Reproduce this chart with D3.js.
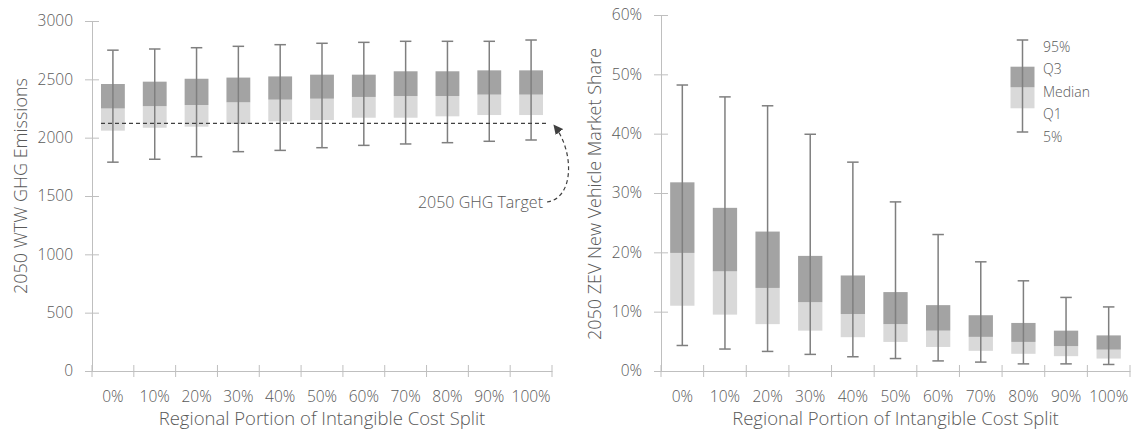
<!DOCTYPE html>
<html>
<head>
<meta charset="utf-8">
<script src="https://cdn.jsdelivr.net/npm/d3@7"></script>
<style>
  body { margin: 0; background: #fff; }
  svg { display: block; font-family: "Open Sans", sans-serif; font-weight: 300; }
  .tick text { fill: #595959; }
</style>
</head>
<body>
<svg id="chart" width="1135" height="438"></svg>
<script>
// categories shared by both panels
const cats = ['0%', '10%', '20%', '30%', '40%', '50%', '60%', '70%', '80%', '90%', '100%'];

// left panel: 2050 WTW GHG emissions
const ghgP5  = [1790, 1815, 1837, 1880, 1891, 1914, 1934, 1946, 1957, 1969, 1980];
const ghgQ1  = [2060, 2085, 2094, 2117, 2140, 2151, 2171, 2171, 2183, 2194, 2194];
const ghgMed = [2250, 2270, 2280, 2303, 2326, 2334, 2349, 2357, 2357, 2369, 2369];
const ghgQ3  = [2460, 2480, 2505, 2515, 2525, 2540, 2540, 2569, 2569, 2577, 2577];
const ghgP95 = [2750, 2760, 2771, 2783, 2797, 2809, 2817, 2826, 2826, 2826, 2837];
const ghgTarget = 2123;
const ghgTicks = [0, 500, 1000, 1500, 2000, 2500, 3000];

// right panel: 2050 ZEV new vehicle market share (%)
const zevP5  = [4.3, 3.7, 3.3, 2.8, 2.4, 2.1, 1.7, 1.5, 1.2, 1.2, 1.1];
const zevQ1  = [11.0, 9.5, 7.9, 6.8, 5.7, 4.9, 4.05, 3.4, 2.9, 2.5, 2.1];
const zevMed = [19.9, 16.8, 14.0, 11.6, 9.6, 7.9, 6.8, 5.75, 4.9, 4.2, 3.6];
const zevQ3  = [31.8, 27.5, 23.5, 19.4, 16.1, 13.3, 11.1, 9.4, 8.1, 6.8, 6.0];
const zevP95 = [48.2, 46.2, 44.7, 39.9, 35.2, 28.5, 23.0, 18.4, 15.2, 12.4, 10.8];
const zevTicks = [0, 10, 20, 30, 40, 50, 60];

const legendLabels = ['95%', 'Q3', 'Median', 'Q1', '5%'];

const svg = d3.select('#chart');
const textColor = '#595959';
const axisColor = '#bfbfbf';
const darkBox = '#a3a3a3';
const lightBox = '#d9d9d9';
const whiskerColor = '#7f7f7f';

function panel(opts) {
  const x = d3.scaleBand().domain(cats).range(opts.xRange).padding(0);
  const y = d3.scaleLinear().domain(opts.yDomain).range(opts.yRange);
  const g = svg.append('g');
  const boxW = x.bandwidth() * 0.57;
  const capW = 11.5;

  const rows = cats.map((c, i) => ({
    c, p5: opts.p5[i], q1: opts.q1[i], med: opts.med[i], q3: opts.q3[i], p95: opts.p95[i]
  }));

  // y axis, ticks cross the axis line
  const yAxis = g.append('g')
    .attr('transform', `translate(${opts.xRange[0]},0)`)
    .call(d3.axisLeft(y).tickValues(opts.yTicks).tickFormat(opts.fmt).tickSize(7).tickPadding(12))
    .attr('font-family', null).attr('font-size', null);
  yAxis.select('.domain').attr('stroke', axisColor);
  yAxis.selectAll('.tick line').attr('stroke', axisColor).attr('x1', 7).attr('x2', -7);
  yAxis.selectAll('.tick text').style('font-size', '15.5px');

  // x axis (labels centered in band, ticks at band edges)
  const xAxis = g.append('g')
    .attr('transform', `translate(0,${opts.yRange[0]})`)
    .call(d3.axisBottom(x).tickSize(0).tickPadding(20))
    .attr('font-family', null).attr('font-size', null);
  xAxis.select('.domain').attr('stroke', axisColor);
  xAxis.selectAll('.tick text').style('font-size', '15.5px');
  const edges = cats.map(c => x(c)).concat([x.range()[1]]);
  xAxis.selectAll('line.edge')
    .data(edges)
    .join('line')
    .attr('class', 'edge')
    .attr('x1', d => d).attr('x2', d => d)
    .attr('y1', -6).attr('y2', 6)
    .attr('stroke', axisColor);

  const box = g.selectAll('g.box')
    .data(rows)
    .join('g')
    .attr('class', 'box')
    .attr('transform', d => `translate(${x(d.c) + x.bandwidth() / 2},0)`);

  box.append('rect')
    .attr('x', -boxW / 2).attr('width', boxW)
    .attr('y', d => y(d.med)).attr('height', d => y(d.q1) - y(d.med))
    .attr('fill', lightBox);
  box.append('rect')
    .attr('x', -boxW / 2).attr('width', boxW)
    .attr('y', d => y(d.q3)).attr('height', d => y(d.med) - y(d.q3))
    .attr('fill', darkBox);
  box.append('line')
    .attr('x1', 0).attr('x2', 0)
    .attr('y1', d => y(d.p95)).attr('y2', d => y(d.p5))
    .attr('stroke', whiskerColor).attr('stroke-width', 1.5);
  box.append('line')
    .attr('x1', -capW / 2).attr('x2', capW / 2)
    .attr('y1', d => y(d.p95)).attr('y2', d => y(d.p95))
    .attr('stroke', whiskerColor).attr('stroke-width', 1.5);
  box.append('line')
    .attr('x1', -capW / 2).attr('x2', capW / 2)
    .attr('y1', d => y(d.p5)).attr('y2', d => y(d.p5))
    .attr('stroke', whiskerColor).attr('stroke-width', 1.5);

  // axis titles
  g.append('text')
    .attr('x', (opts.xRange[0] + opts.xRange[1]) / 2)
    .attr('y', 425)
    .attr('text-anchor', 'middle')
    .attr('fill', textColor)
    .style('font-size', '18.5px')
    .text('Regional Portion of Intangible Cost Split');
  g.append('text')
    .attr('transform', `translate(${opts.yTitleX},${opts.yTitleY}) rotate(-90)`)
    .attr('text-anchor', 'middle')
    .attr('fill', textColor)
    .style('font-size', '18px')
    .text(opts.yTitle);

  return { g, x, y, boxW };
}

// left panel
const left = panel({
  xRange: [92, 552], yDomain: [0, 3000], yRange: [371, 21], yTicks: ghgTicks,
  fmt: d3.format('d'),
  p5: ghgP5, q1: ghgQ1, med: ghgMed, q3: ghgQ3, p95: ghgP95,
  yTitle: '2050 WTW GHG Emissions', yTitleX: 27, yTitleY: 186
});

// target line and annotation
svg.append('defs').append('marker')
  .attr('id', 'arrow')
  .attr('viewBox', '0 0 10 10')
  .attr('refX', 9).attr('refY', 5)
  .attr('markerWidth', 8).attr('markerHeight', 8)
  .attr('orient', 'auto')
  .append('path')
  .attr('d', 'M0,0 L10,5 L0,10 z')
  .attr('fill', '#404040');

const tStart = left.x(cats[0]) + (left.x.bandwidth() - left.boxW) / 2;
left.g.append('line')
  .attr('x1', tStart).attr('x2', left.x.range()[1] - 4)
  .attr('y1', left.y(ghgTarget)).attr('y2', left.y(ghgTarget))
  .attr('stroke', '#404040').attr('stroke-width', 1.2)
  .attr('stroke-dasharray', '4,3');
left.g.append('text')
  .attr('x', 543).attr('y', 208)
  .attr('text-anchor', 'end')
  .attr('fill', textColor)
  .style('font-size', '16px')
  .text('2050 GHG Target');
left.g.append('path')
  .attr('d', `M547,202 C575,198 574,150 ${554},${left.y(ghgTarget) + 2}`)
  .attr('fill', 'none')
  .attr('stroke', '#404040').attr('stroke-width', 1.2)
  .attr('stroke-dasharray', '4,3')
  .attr('marker-end', 'url(#arrow)');

// right panel
const right = panel({
  xRange: [661, 1130], yDomain: [0, 60], yRange: [371, 15], yTicks: zevTicks,
  fmt: d => d + '%',
  p5: zevP5, q1: zevQ1, med: zevMed, q3: zevQ3, p95: zevP95,
  yTitle: '2050 ZEV New Vehicle Market Share', yTitleX: 601, yTitleY: 194
});

// legend
const leg = svg.append('g').attr('transform', 'translate(1022.5,40)');
const legY = [0, 26.7, 47.3, 68.3, 92];
leg.append('rect').attr('x', -12).attr('width', 24)
  .attr('y', legY[2]).attr('height', legY[3] - legY[2]).attr('fill', lightBox);
leg.append('rect').attr('x', -12).attr('width', 24)
  .attr('y', legY[1]).attr('height', legY[2] - legY[1]).attr('fill', darkBox);
leg.append('line').attr('x1', 0).attr('x2', 0).attr('y1', legY[0]).attr('y2', legY[4])
  .attr('stroke', whiskerColor).attr('stroke-width', 1.5);
[legY[0], legY[4]].forEach(v => leg.append('line')
  .attr('x1', -5.75).attr('x2', 5.75).attr('y1', v).attr('y2', v)
  .attr('stroke', whiskerColor).attr('stroke-width', 1.5));
leg.selectAll('text.lab')
  .data(legendLabels)
  .join('text')
  .attr('class', 'lab')
  .attr('x', 20.5)
  .attr('y', (d, i) => 7 + i * 22.5)
  .attr('dy', '0.35em')
  .attr('fill', textColor)
  .style('font-size', '14px')
  .text(d => d);
</script>
</body>
</html>
